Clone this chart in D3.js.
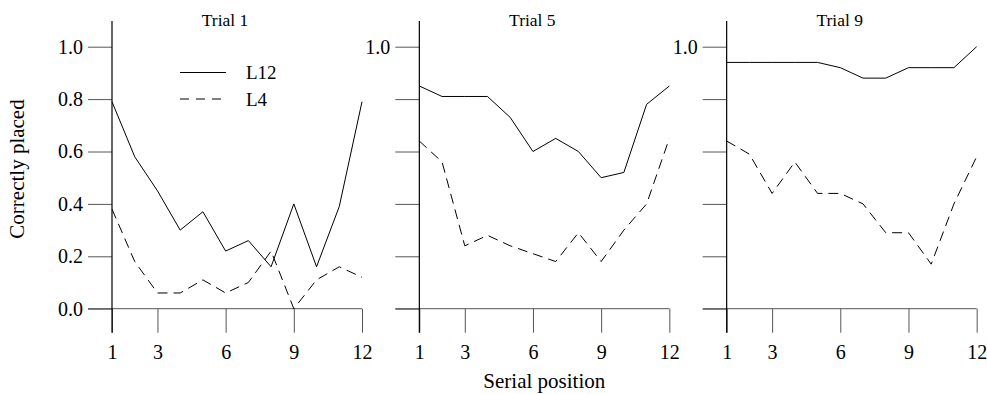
<!DOCTYPE html>
<html>
<head>
<meta charset="utf-8">
<script src="https://cdn.jsdelivr.net/npm/d3@7"></script>
<style>
    body { margin: 0; background: #fff; }
    svg text { font-family: "Liberation Serif", "Times New Roman", serif; font-weight: normal; }
</style>
</head>
<body>
<svg id="chart" width="987" height="394"></svg>
<script>
// Chart data.
const positions = [1, 2, 3, 4, 5, 6, 7, 8, 9, 10, 11, 12];
const trials = ["Trial 1", "Trial 5", "Trial 9"];
const xTicks = [1, 3, 6, 9, 12];
const yTicks = [0, 0.2, 0.4, 0.6, 0.8, 1.0];
const seriesNames = ["L12", "L4"];

const l12Values = [
    [0.79, 0.58, 0.45, 0.30, 0.37, 0.22, 0.26, 0.16, 0.40, 0.16, 0.39, 0.79],
    [0.85, 0.81, 0.81, 0.81, 0.73, 0.60, 0.65, 0.60, 0.50, 0.52, 0.78, 0.85],
    [0.94, 0.94, 0.94, 0.94, 0.94, 0.92, 0.88, 0.88, 0.92, 0.92, 0.92, 1.00]
];
const l4Values = [
    [0.38, 0.18, 0.06, 0.06, 0.11, 0.06, 0.10, 0.22, 0.00, 0.11, 0.16, 0.12],
    [0.64, 0.56, 0.24, 0.28, 0.24, 0.21, 0.18, 0.29, 0.18, 0.30, 0.40, 0.65],
    [0.64, 0.59, 0.44, 0.56, 0.44, 0.44, 0.40, 0.29, 0.29, 0.17, 0.40, 0.58]
];

const serif = "Liberation Serif, Times New Roman, serif";

let svg = d3.select("#chart");

let graphAttr = {
    x: 112,
    panelStep: 307.33,
    plotWidth: 250,
    yTop: 46.7,
    yBottom: 308.7,
    axisTop: 21,
    tickSize: 24
};

let xScale = d3.scaleLinear()
    .domain([1, 12])
    .range([0, graphAttr.plotWidth]);

let yScale = d3.scaleLinear()
    .domain([0, 1])
    .range([graphAttr.yBottom, graphAttr.yTop]);

let lineGen = d3.line()
    .x((d, i) => xScale(positions[i]))
    .y(d => yScale(d));

trials.forEach((title, p) => {
    let panel = svg.append("g")
        .attr("transform", "translate(" + (graphAttr.x + p * graphAttr.panelStep) + ",0)");

    // Left axis, labels only on the first panel (others show 1.0).
    let yAxis = d3.axisLeft(yScale)
        .tickValues(yTicks)
        .tickSize(graphAttr.tickSize)
        .tickPadding(5)
        .tickFormat(d => (p === 0 || d === 1) ? d3.format(".1f")(d) : "");
    let yG = panel.append("g").call(yAxis)
        .attr("font-family", serif)
        .attr("font-size", 20);
    yG.select(".domain").remove();
    yG.selectAll(".tick line").attr("stroke", "#555");
    yG.selectAll(".tick text").attr("fill", "#000");

    // Bottom axis.
    let xAxis = d3.axisBottom(xScale)
        .tickValues(xTicks)
        .tickSize(graphAttr.tickSize)
        .tickPadding(12);
    let xG = panel.append("g")
        .attr("transform", "translate(0," + graphAttr.yBottom + ")")
        .call(xAxis)
        .attr("font-family", serif)
        .attr("font-size", 20);
    xG.select(".domain").remove();
    xG.selectAll(".tick line").attr("stroke", "#555");
    xG.selectAll(".tick text").attr("fill", "#000");

    // Horizontal zero line.
    panel.append("line")
        .attr("x1", -graphAttr.tickSize)
        .attr("x2", xScale(12))
        .attr("y1", yScale(0))
        .attr("y2", yScale(0))
        .attr("stroke", "#555")
        .attr("stroke-width", 1);

    // Vertical axis line.
    panel.append("line")
        .attr("x1", 0)
        .attr("x2", 0)
        .attr("y1", graphAttr.axisTop)
        .attr("y2", graphAttr.yBottom + graphAttr.tickSize)
        .attr("stroke", "#000")
        .attr("stroke-width", 1.2);

    // Panel title.
    panel.append("text")
        .attr("x", (graphAttr.plotWidth - graphAttr.tickSize) / 2)
        .attr("y", 26)
        .attr("text-anchor", "middle")
        .attr("font-family", serif)
        .attr("font-size", 17.5)
        .text(title);

    // Lines.
    panel.append("path")
        .attr("d", lineGen(l12Values[p]))
        .attr("fill", "none")
        .attr("stroke", "#000")
        .attr("stroke-width", 1);
    panel.append("path")
        .attr("d", lineGen(l4Values[p]))
        .attr("fill", "none")
        .attr("stroke", "#000")
        .attr("stroke-width", 1)
        .style("stroke-dasharray", "10,6");
});

// Legend in first panel.
let legend = svg.append("g").attr("transform", "translate(180,0)");
seriesNames.forEach((name, i) => {
    let y = 72.5 + i * 26.5;
    legend.append("line")
        .attr("x1", 0)
        .attr("x2", 46)
        .attr("y1", y)
        .attr("y2", y)
        .attr("stroke", "#000")
        .attr("stroke-width", 1)
        .style("stroke-dasharray", i === 0 ? null : "9,7");
    legend.append("text")
        .attr("x", 66)
        .attr("y", y + 6.5)
        .attr("font-family", serif)
        .attr("font-size", 19)
        .text(name);
});

// Axis titles.
svg.append("text")
    .attr("transform", "translate(24,169) rotate(-90)")
    .attr("text-anchor", "middle")
    .attr("font-family", serif)
    .attr("font-size", 21)
    .text("Correctly placed");

svg.append("text")
    .attr("x", graphAttr.x + graphAttr.panelStep + graphAttr.plotWidth / 2)
    .attr("y", 388)
    .attr("text-anchor", "middle")
    .attr("font-family", serif)
    .attr("font-size", 21)
    .text("Serial position");
</script>
</body>
</html>
